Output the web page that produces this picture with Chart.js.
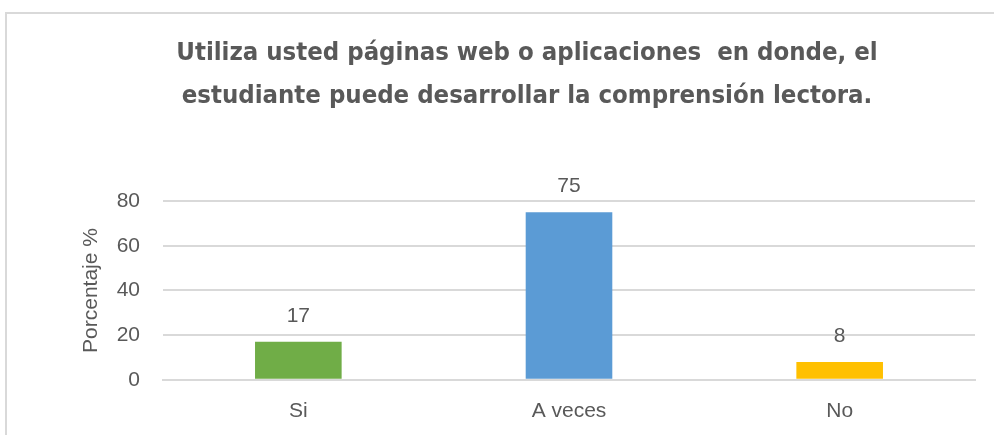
<!DOCTYPE html>
<html>
<head>
<meta charset="utf-8">
<script src="https://cdn.jsdelivr.net/npm/chart.js@4.4.0/dist/chart.umd.min.js"></script>
<style>
  html,body{margin:0;padding:0;background:#fff;overflow:hidden}
  #frame{position:absolute;left:5px;top:12px;width:1000px;height:440px;border:2px solid #d9d9d9;box-sizing:border-box}
  #wrap{position:absolute;left:0;top:0;width:994px;height:435px}
</style>
</head>
<body>
<div id="frame"></div>
<div id="wrap"><canvas id="chart" width="994" height="435"></canvas></div>
<script>
// --- data ---
const categories = ['Si', 'A veces', 'No'];
const percentages = [17, 75, 8];
const barColors = ['#70ad47', '#5b9bd5', '#ffc000'];
const yTicks = [0, 20, 40, 60, 80];
const titleLines = ['Utiliza usted páginas web o aplicaciones  en donde, el', 'estudiante puede desarrollar la comprensión lectora.'];

const GRAY = '#595959';
const TICK_FONT = {family: '"Liberation Sans", Arial, sans-serif', size: 21};

// value labels above each bar
const valueLabels = {
  id: 'valueLabels',
  afterDatasetsDraw(chart){
    const ctx = chart.ctx;
    const meta = chart.getDatasetMeta(0);
    ctx.save();
    ctx.fillStyle = GRAY;
    ctx.font = '21px "Liberation Sans", Arial, sans-serif';
    ctx.textAlign = 'center';
    ctx.textBaseline = 'middle';
    meta.data.forEach((bar, i) => {
      ctx.fillText(String(percentages[i]), bar.x, bar.y - 26);
    });
    ctx.restore();
  }
};

new Chart(document.getElementById('chart'), {
  type: 'bar',
  data: {
    labels: categories,
    datasets: [{
      data: percentages,
      backgroundColor: barColors,
      categoryPercentage: 1,
      barPercentage: 0.32
    }]
  },
  options: {
    responsive: false,
    animation: false,
    layout: {padding: {left: 79, right: 19, top: 32, bottom: 0}},
    plugins: {
      legend: {display: false},
      tooltip: {enabled: false},
      title: {
        display: true,
        text: titleLines,
        color: GRAY,
        font: {family: '"DejaVu Sans Condensed", sans-serif', size: 25.5, weight: 'bold', lineHeight: 1.69},
        padding: {top: 0, bottom: 83}
      }
    },
    scales: {
      x: {
        grid: {display: false},
        border: {color: '#d9d9d9', width: 2},
        ticks: {color: GRAY, font: TICK_FONT, padding: 11}
      },
      y: {
        min: 0,
        max: 80,
        afterBuildTicks(axis){ axis.ticks = yTicks.map(v => ({value: v})); },
        afterFit(axis){ axis.width = 84; },
        grid: {color: '#d9d9d9', lineWidth: 2, drawTicks: false},
        border: {display: false},
        ticks: {color: GRAY, font: TICK_FONT, padding: 23},
        title: {display: true, text: 'Porcentaje %', color: GRAY, font: TICK_FONT, padding: 0}
      }
    }
  },
  plugins: [valueLabels]
});
</script>
</body>
</html>
